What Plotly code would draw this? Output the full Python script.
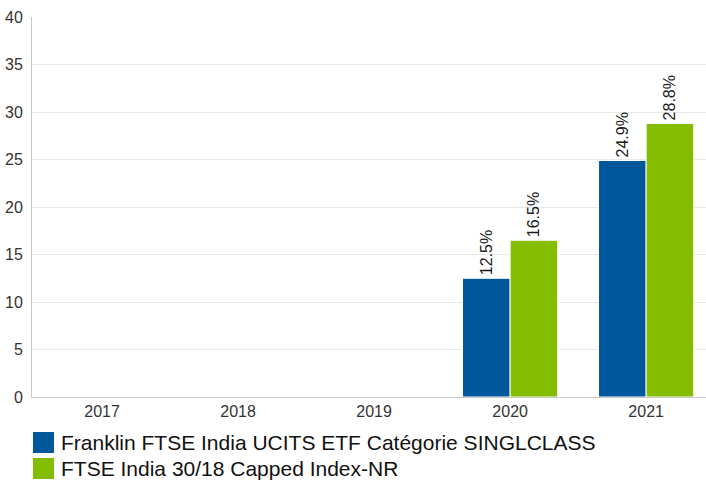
import plotly.graph_objects as go

years = ["2017", "2018", "2019", "2020", "2021"]
series_names = ["Franklin FTSE India UCITS ETF Catégorie SINGLCLASS",
                "FTSE India 30/18 Capped Index-NR"]
fund_values = [None, None, None, 12.5, 24.9]
index_values = [None, None, None, 16.5, 28.8]
colors = ["#00579B", "#84BD00"]

W, H = 706, 481
L, R, T, B = 32, 0, 17, 84
pw, ph = W - L - R, H - T - B

fig = go.Figure()
for name, vals, c in zip(series_names, [fund_values, index_values], colors):
    fig.add_trace(go.Bar(
        x=years, y=vals, name=name,
        marker=dict(color=c, line=dict(color="white", width=1)),
        text=[None if v is None else f"{v:.1f}%" for v in vals],
        textposition="outside", textangle=-90, cliponaxis=False,
        textfont=dict(size=16, color="#1a1a1a"), showlegend=False))

def px_x(p):
    return (p - L) / pw

def px_y(p):
    return (H - B - p) / ph

shapes = []
annotations = []
for i, (name, c) in enumerate(zip(series_names, colors)):
    top = 432 + i * 26
    shapes.append(dict(type="rect", xref="paper", yref="paper",
                       x0=px_x(33), x1=px_x(54), y0=px_y(top), y1=px_y(top + 21),
                       fillcolor=c, line=dict(width=0)))
    annotations.append(dict(xref="paper", yref="paper", x=px_x(59), y=px_y(top + 10.5),
                            text=name, showarrow=False, xanchor="left", yanchor="middle",
                            font=dict(size=21, color="#111111")))

fig.update_layout(
    width=W, height=H, margin=dict(l=L, r=R, t=T, b=B),
    paper_bgcolor="white", plot_bgcolor="white",
    font=dict(family="Arial, Liberation Sans, sans-serif", size=16, color="#333333"),
    barmode="group", bargap=0.30, bargroupgap=0,
    shapes=shapes, annotations=annotations,
    xaxis=dict(range=[-0.515, 4.44], showline=True, linecolor="#C8C8C8", linewidth=1,
               showgrid=False, ticks="", automargin=False,
               tickfont=dict(size=16, color="#333333")),
    yaxis=dict(range=[0, 40], dtick=5, showline=True, linecolor="#C8C8C8", linewidth=1,
               gridcolor="#E8E8E8", zeroline=False, ticks="", automargin=False,
               ticklabelstandoff=5, tickfont=dict(size=16, color="#333333")),
)
fig.write_html("out.html", config={"displayModeBar": False},
               post_script="document.body.style.margin='0';document.body.style.overflow='hidden';")
